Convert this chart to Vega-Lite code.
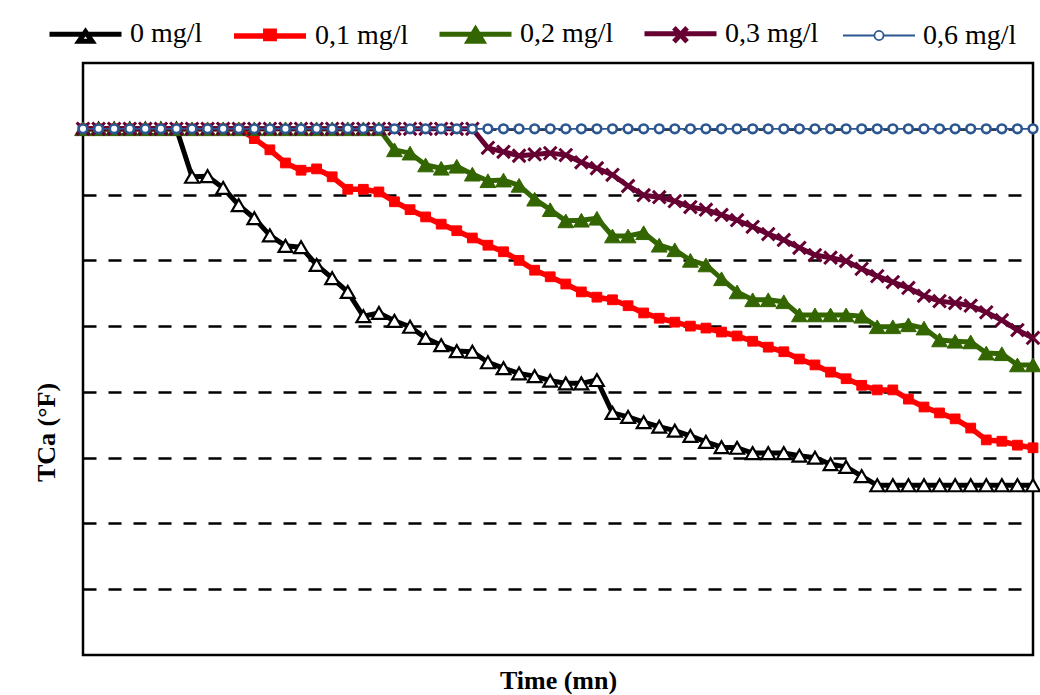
{
  "$schema": "https://vega.github.io/schema/vega-lite/v6.json",
  "width": 950,
  "height": 592,
  "autosize": {"type": "none"},
  "padding": {"left": 83, "top": 63, "right": 7, "bottom": 40},
  "background": "white",
  "config": {
    "view": {"stroke": "black", "strokeWidth": 2.5},
    "font": "Liberation Serif"
  },
  "data": {
    "values": [
      {"t": 0, "0 mg/l": 8, "0,1 mg/l": 8, "0,2 mg/l": 8, "0,3 mg/l": 8, "0,6 mg/l": 8},
      {"t": 1, "0 mg/l": 8, "0,1 mg/l": 8, "0,2 mg/l": 8, "0,3 mg/l": 8, "0,6 mg/l": 8},
      {"t": 2, "0 mg/l": 8, "0,1 mg/l": 8, "0,2 mg/l": 8, "0,3 mg/l": 8, "0,6 mg/l": 8},
      {"t": 3, "0 mg/l": 8, "0,1 mg/l": 8, "0,2 mg/l": 8, "0,3 mg/l": 8, "0,6 mg/l": 8},
      {"t": 4, "0 mg/l": 8, "0,1 mg/l": 8, "0,2 mg/l": 8, "0,3 mg/l": 8, "0,6 mg/l": 8},
      {"t": 5, "0 mg/l": 8, "0,1 mg/l": 8, "0,2 mg/l": 8, "0,3 mg/l": 8, "0,6 mg/l": 8},
      {"t": 6, "0 mg/l": 8, "0,1 mg/l": 8, "0,2 mg/l": 8, "0,3 mg/l": 8, "0,6 mg/l": 8},
      {"t": 7, "0 mg/l": 7.27, "0,1 mg/l": 8, "0,2 mg/l": 8, "0,3 mg/l": 8, "0,6 mg/l": 8},
      {"t": 8, "0 mg/l": 7.28, "0,1 mg/l": 8, "0,2 mg/l": 8, "0,3 mg/l": 8, "0,6 mg/l": 8},
      {"t": 9, "0 mg/l": 7.10, "0,1 mg/l": 8, "0,2 mg/l": 8, "0,3 mg/l": 8, "0,6 mg/l": 8},
      {"t": 10, "0 mg/l": 6.84, "0,1 mg/l": 8, "0,2 mg/l": 8, "0,3 mg/l": 8, "0,6 mg/l": 8},
      {"t": 11, "0 mg/l": 6.64, "0,1 mg/l": 7.85, "0,2 mg/l": 8, "0,3 mg/l": 8, "0,6 mg/l": 8},
      {"t": 12, "0 mg/l": 6.38, "0,1 mg/l": 7.68, "0,2 mg/l": 8, "0,3 mg/l": 8, "0,6 mg/l": 8},
      {"t": 13, "0 mg/l": 6.22, "0,1 mg/l": 7.48, "0,2 mg/l": 8, "0,3 mg/l": 8, "0,6 mg/l": 8},
      {"t": 14, "0 mg/l": 6.20, "0,1 mg/l": 7.37, "0,2 mg/l": 8, "0,3 mg/l": 8, "0,6 mg/l": 8},
      {"t": 15, "0 mg/l": 5.93, "0,1 mg/l": 7.39, "0,2 mg/l": 8, "0,3 mg/l": 8, "0,6 mg/l": 8},
      {"t": 16, "0 mg/l": 5.73, "0,1 mg/l": 7.27, "0,2 mg/l": 8, "0,3 mg/l": 8, "0,6 mg/l": 8},
      {"t": 17, "0 mg/l": 5.52, "0,1 mg/l": 7.08, "0,2 mg/l": 8, "0,3 mg/l": 8, "0,6 mg/l": 8},
      {"t": 18, "0 mg/l": 5.15, "0,1 mg/l": 7.08, "0,2 mg/l": 8, "0,3 mg/l": 8, "0,6 mg/l": 8},
      {"t": 19, "0 mg/l": 5.20, "0,1 mg/l": 7.04, "0,2 mg/l": 8, "0,3 mg/l": 8, "0,6 mg/l": 8},
      {"t": 20, "0 mg/l": 5.08, "0,1 mg/l": 6.89, "0,2 mg/l": 7.68, "0,3 mg/l": 8, "0,6 mg/l": 8},
      {"t": 21, "0 mg/l": 4.99, "0,1 mg/l": 6.77, "0,2 mg/l": 7.63, "0,3 mg/l": 8, "0,6 mg/l": 8},
      {"t": 22, "0 mg/l": 4.82, "0,1 mg/l": 6.66, "0,2 mg/l": 7.45, "0,3 mg/l": 8, "0,6 mg/l": 8},
      {"t": 23, "0 mg/l": 4.71, "0,1 mg/l": 6.55, "0,2 mg/l": 7.40, "0,3 mg/l": 8, "0,6 mg/l": 8},
      {"t": 24, "0 mg/l": 4.62, "0,1 mg/l": 6.45, "0,2 mg/l": 7.43, "0,3 mg/l": 8, "0,6 mg/l": 8},
      {"t": 25, "0 mg/l": 4.61, "0,1 mg/l": 6.34, "0,2 mg/l": 7.31, "0,3 mg/l": 8, "0,6 mg/l": 8},
      {"t": 26, "0 mg/l": 4.45, "0,1 mg/l": 6.23, "0,2 mg/l": 7.21, "0,3 mg/l": 7.71, "0,6 mg/l": 8},
      {"t": 27, "0 mg/l": 4.36, "0,1 mg/l": 6.13, "0,2 mg/l": 7.22, "0,3 mg/l": 7.65, "0,6 mg/l": 8},
      {"t": 28, "0 mg/l": 4.28, "0,1 mg/l": 6.00, "0,2 mg/l": 7.14, "0,3 mg/l": 7.59, "0,6 mg/l": 8},
      {"t": 29, "0 mg/l": 4.24, "0,1 mg/l": 5.85, "0,2 mg/l": 6.93, "0,3 mg/l": 7.61, "0,6 mg/l": 8},
      {"t": 30, "0 mg/l": 4.17, "0,1 mg/l": 5.75, "0,2 mg/l": 6.77, "0,3 mg/l": 7.63, "0,6 mg/l": 8},
      {"t": 31, "0 mg/l": 4.13, "0,1 mg/l": 5.64, "0,2 mg/l": 6.60, "0,3 mg/l": 7.60, "0,6 mg/l": 8},
      {"t": 32, "0 mg/l": 4.13, "0,1 mg/l": 5.52, "0,2 mg/l": 6.61, "0,3 mg/l": 7.49, "0,6 mg/l": 8},
      {"t": 33, "0 mg/l": 4.18, "0,1 mg/l": 5.44, "0,2 mg/l": 6.64, "0,3 mg/l": 7.40, "0,6 mg/l": 8},
      {"t": 34, "0 mg/l": 3.68, "0,1 mg/l": 5.40, "0,2 mg/l": 6.37, "0,3 mg/l": 7.30, "0,6 mg/l": 8},
      {"t": 35, "0 mg/l": 3.62, "0,1 mg/l": 5.31, "0,2 mg/l": 6.37, "0,3 mg/l": 7.13, "0,6 mg/l": 8},
      {"t": 36, "0 mg/l": 3.54, "0,1 mg/l": 5.20, "0,2 mg/l": 6.42, "0,3 mg/l": 6.99, "0,6 mg/l": 8},
      {"t": 37, "0 mg/l": 3.47, "0,1 mg/l": 5.12, "0,2 mg/l": 6.23, "0,3 mg/l": 6.96, "0,6 mg/l": 8},
      {"t": 38, "0 mg/l": 3.41, "0,1 mg/l": 5.06, "0,2 mg/l": 6.16, "0,3 mg/l": 6.90, "0,6 mg/l": 8},
      {"t": 39, "0 mg/l": 3.33, "0,1 mg/l": 5.00, "0,2 mg/l": 6.00, "0,3 mg/l": 6.81, "0,6 mg/l": 8},
      {"t": 40, "0 mg/l": 3.24, "0,1 mg/l": 4.97, "0,2 mg/l": 5.93, "0,3 mg/l": 6.77, "0,6 mg/l": 8},
      {"t": 41, "0 mg/l": 3.16, "0,1 mg/l": 4.91, "0,2 mg/l": 5.72, "0,3 mg/l": 6.69, "0,6 mg/l": 8},
      {"t": 42, "0 mg/l": 3.15, "0,1 mg/l": 4.85, "0,2 mg/l": 5.52, "0,3 mg/l": 6.61, "0,6 mg/l": 8},
      {"t": 43, "0 mg/l": 3.07, "0,1 mg/l": 4.77, "0,2 mg/l": 5.40, "0,3 mg/l": 6.51, "0,6 mg/l": 8},
      {"t": 44, "0 mg/l": 3.07, "0,1 mg/l": 4.68, "0,2 mg/l": 5.40, "0,3 mg/l": 6.40, "0,6 mg/l": 8},
      {"t": 45, "0 mg/l": 3.07, "0,1 mg/l": 4.61, "0,2 mg/l": 5.37, "0,3 mg/l": 6.31, "0,6 mg/l": 8},
      {"t": 46, "0 mg/l": 3.03, "0,1 mg/l": 4.50, "0,2 mg/l": 5.17, "0,3 mg/l": 6.19, "0,6 mg/l": 8},
      {"t": 47, "0 mg/l": 3.00, "0,1 mg/l": 4.41, "0,2 mg/l": 5.17, "0,3 mg/l": 6.08, "0,6 mg/l": 8},
      {"t": 48, "0 mg/l": 2.90, "0,1 mg/l": 4.30, "0,2 mg/l": 5.17, "0,3 mg/l": 6.04, "0,6 mg/l": 8},
      {"t": 49, "0 mg/l": 2.86, "0,1 mg/l": 4.20, "0,2 mg/l": 5.17, "0,3 mg/l": 5.99, "0,6 mg/l": 8},
      {"t": 50, "0 mg/l": 2.72, "0,1 mg/l": 4.10, "0,2 mg/l": 5.15, "0,3 mg/l": 5.87, "0,6 mg/l": 8},
      {"t": 51, "0 mg/l": 2.58, "0,1 mg/l": 4.03, "0,2 mg/l": 4.99, "0,3 mg/l": 5.76, "0,6 mg/l": 8},
      {"t": 52, "0 mg/l": 2.58, "0,1 mg/l": 4.03, "0,2 mg/l": 4.99, "0,3 mg/l": 5.67, "0,6 mg/l": 8},
      {"t": 53, "0 mg/l": 2.58, "0,1 mg/l": 3.89, "0,2 mg/l": 5.02, "0,3 mg/l": 5.58, "0,6 mg/l": 8},
      {"t": 54, "0 mg/l": 2.58, "0,1 mg/l": 3.77, "0,2 mg/l": 4.97, "0,3 mg/l": 5.46, "0,6 mg/l": 8},
      {"t": 55, "0 mg/l": 2.58, "0,1 mg/l": 3.68, "0,2 mg/l": 4.79, "0,3 mg/l": 5.38, "0,6 mg/l": 8},
      {"t": 56, "0 mg/l": 2.58, "0,1 mg/l": 3.59, "0,2 mg/l": 4.77, "0,3 mg/l": 5.35, "0,6 mg/l": 8},
      {"t": 57, "0 mg/l": 2.58, "0,1 mg/l": 3.45, "0,2 mg/l": 4.76, "0,3 mg/l": 5.31, "0,6 mg/l": 8},
      {"t": 58, "0 mg/l": 2.58, "0,1 mg/l": 3.27, "0,2 mg/l": 4.59, "0,3 mg/l": 5.21, "0,6 mg/l": 8},
      {"t": 59, "0 mg/l": 2.58, "0,1 mg/l": 3.25, "0,2 mg/l": 4.58, "0,3 mg/l": 5.09, "0,6 mg/l": 8},
      {"t": 60, "0 mg/l": 2.58, "0,1 mg/l": 3.19, "0,2 mg/l": 4.41, "0,3 mg/l": 4.94, "0,6 mg/l": 8},
      {"t": 61, "0 mg/l": 2.58, "0,1 mg/l": 3.15, "0,2 mg/l": 4.41, "0,3 mg/l": 4.82, "0,6 mg/l": 8}
    ]
  },
  "transform": [
    {"fold": ["0 mg/l", "0,1 mg/l", "0,2 mg/l", "0,3 mg/l", "0,6 mg/l"], "as": ["serie", "tca"]}
  ],
  "encoding": {
    "x": {
      "field": "t",
      "type": "quantitative",
      "scale": {"domain": [0, 61], "nice": false, "zero": false},
      "axis": {
        "title": "Time (mn)",
        "labels": false,
        "ticks": false,
        "domain": false,
        "grid": false,
        "titleFont": "Liberation Serif",
        "titleFontSize": 26,
        "titleFontWeight": "bold",
        "titleColor": "#000000",
        "titlePadding": 12
      }
    },
    "y": {
      "field": "tca",
      "type": "quantitative",
      "scale": {"domain": [0, 9], "nice": false, "zero": false},
      "axis": {
        "title": "TCa (°F)",
        "labels": false,
        "ticks": false,
        "domain": false,
        "values": [1, 2, 3, 4, 5, 6, 7, 8],
        "grid": true,
        "gridColor": "black",
        "gridWidth": 2.5,
        "gridDash": [13, 12],
        "gridOpacity": 1,
        "titleFont": "Liberation Serif",
        "titleFontSize": 26,
        "titleFontWeight": "bold",
        "titleColor": "#000000",
        "titleAngle": 270,
        "titleBaseline": "middle",
        "titleX": -37,
        "titleY": 369
      }
    }
  },
  "layer": [
    {
      "mark": {"type": "line", "interpolate": "linear", "strokeJoin": "round"},
      "encoding": {
        "stroke": {
          "field": "serie",
          "type": "nominal",
          "scale": {
            "domain": ["0 mg/l", "0,1 mg/l", "0,2 mg/l", "0,3 mg/l", "0,6 mg/l"],
            "range": ["#000000", "#ff0000", "#336600", "#660033", "#2b5690"]
          },
          "legend": null
        },
        "strokeWidth": {
          "field": "serie",
          "type": "ordinal",
          "scale": {
            "type": "ordinal",
            "domain": ["0 mg/l", "0,1 mg/l", "0,2 mg/l", "0,3 mg/l", "0,6 mg/l"],
            "range": [5, 5.5, 5, 5, 1.8]
          },
          "legend": null
        }
      }
    },
    {
      "mark": {"type": "point", "filled": true, "opacity": 1},
      "encoding": {
        "order": {"field": "serie", "type": "nominal"},
        "shape": {
          "field": "serie",
          "type": "nominal",
          "scale": {
            "domain": ["0 mg/l", "0,1 mg/l", "0,2 mg/l", "0,3 mg/l", "0,6 mg/l"],
            "range": ["triangle-up", "square", "triangle-up", "M-1,-1L1,1M-1,1L1,-1", "circle"]
          },
          "legend": null
        },
        "fill": {
          "field": "serie",
          "type": "nominal",
          "scale": {
            "domain": ["0 mg/l", "0,1 mg/l", "0,2 mg/l", "0,3 mg/l", "0,6 mg/l"],
            "range": ["#ffffff", "#ff0000", "#336600", "#660033", "#ffffff"]
          },
          "legend": null
        },
        "stroke": {
          "field": "serie",
          "type": "nominal",
          "scale": {
            "domain": ["0 mg/l", "0,1 mg/l", "0,2 mg/l", "0,3 mg/l", "0,6 mg/l"],
            "range": ["#000000", "#ff0000", "#336600", "#660033", "#2b5690"]
          },
          "legend": null
        },
        "strokeWidth": {
          "field": "serie",
          "type": "ordinal",
          "scale": {
            "type": "ordinal",
            "domain": ["0 mg/l", "0,1 mg/l", "0,2 mg/l", "0,3 mg/l", "0,6 mg/l"],
            "range": [2.2, 1, 1, 3, 2.6]
          },
          "legend": null
        },
        "size": {
          "field": "serie",
          "type": "ordinal",
          "scale": {
            "type": "ordinal",
            "domain": ["0 mg/l", "0,1 mg/l", "0,2 mg/l", "0,3 mg/l", "0,6 mg/l"],
            "range": [190, 95, 250, 160, 75]
          },
          "legend": null
        }
      }
    },
    {
      "mark": {"type": "point", "filled": true, "size": 0},
      "encoding": {
        "shape": {
          "field": "serie",
          "type": "nominal",
          "scale": {
            "domain": ["0 mg/l", "0,1 mg/l", "0,2 mg/l", "0,3 mg/l", "0,6 mg/l"],
            "range": [
              "M-3,0H3M0,-0.2L0.55,0.6H-0.55Z",
              "M-3,0H3M-0.35,-0.4H0.35V0.2H-0.35Z",
              "M-3,0H3M0,-0.4L0.6,0.6H-0.6Z",
              "M-3,0H3M-0.55,-0.5L0.55,0.65M-0.55,0.65L0.55,-0.5",
              "M-3,0H-0.38M0.38,0H3M0.38,0A0.38,0.38 0 1,1 -0.38,0A0.38,0.38 0 1,1 0.38,0Z"
            ]
          },
          "legend": {
            "title": null,
            "orient": "none",
            "direction": "horizontal",
            "legendX": -12,
            "legendY": -44,
            "padding": 0,
            "symbolSize": 576,
            "symbolOpacity": 1,
            "labelOffset": 30,
            "columnPadding": 20,
            "labelFont": "Liberation Serif",
            "labelFontSize": 28,
            "labelColor": "black",
            "labelLimit": 0
          }
        },
        "fill": {
          "field": "serie",
          "type": "nominal",
          "scale": {
            "domain": ["0 mg/l", "0,1 mg/l", "0,2 mg/l", "0,3 mg/l", "0,6 mg/l"],
            "range": ["#ffffff", "#ff0000", "#336600", "#660033", "#ffffff"]
          },
          "legend": {"title": null}
        },
        "stroke": {
          "field": "serie",
          "type": "nominal",
          "scale": {
            "domain": ["0 mg/l", "0,1 mg/l", "0,2 mg/l", "0,3 mg/l", "0,6 mg/l"],
            "range": ["#000000", "#ff0000", "#336600", "#660033", "#2b5690"]
          },
          "legend": {"title": null}
        },
        "strokeWidth": {
          "field": "serie",
          "type": "ordinal",
          "scale": {
            "type": "ordinal",
            "domain": ["0 mg/l", "0,1 mg/l", "0,2 mg/l", "0,3 mg/l", "0,6 mg/l"],
            "range": [5, 5.5, 5, 5, 1.8]
          },
          "legend": {"title": null}
        }
      }
    }
  ],
  "resolve": {
    "scale": {
      "shape": "independent",
      "fill": "independent",
      "stroke": "independent",
      "strokeWidth": "independent",
      "size": "independent"
    }
  }
}
